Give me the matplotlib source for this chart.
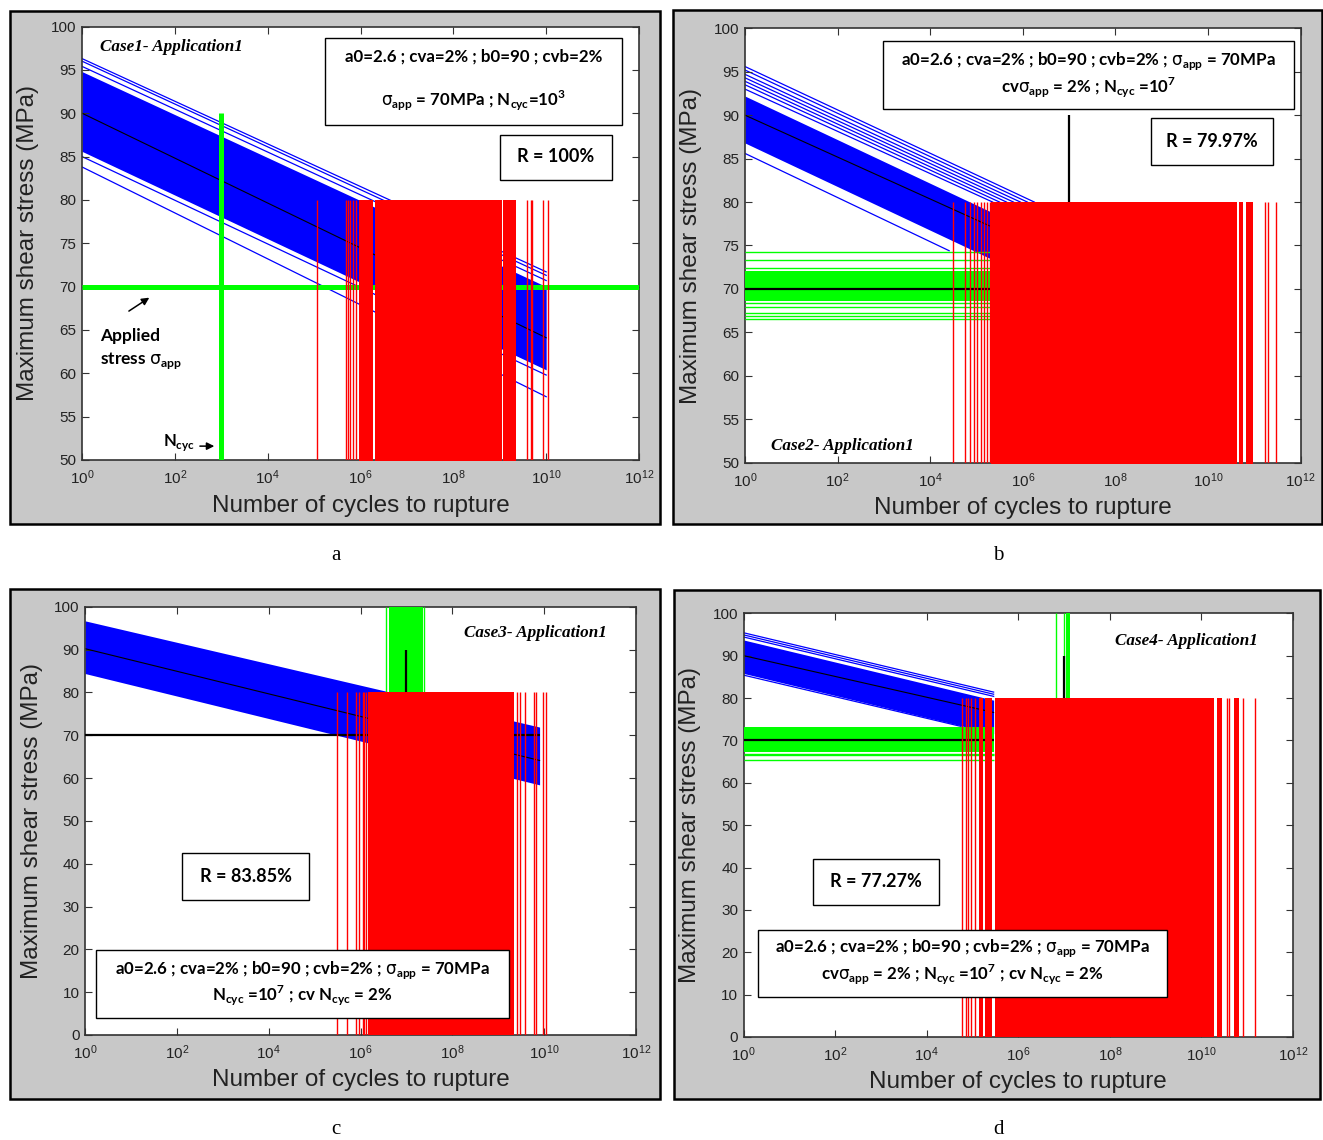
import numpy as np
import matplotlib
matplotlib.use("Agg")
import matplotlib.pyplot as plt
from matplotlib.patches import Rectangle

plt.rcParams["font.family"] = "Liberation Sans"
plt.rcParams["mathtext.fontset"] = "custom"
plt.rcParams["mathtext.rm"] = "Lato:bold"
plt.rcParams["mathtext.bf"] = "Lato:bold"
plt.rcParams["mathtext.it"] = "DejaVu Sans"

BLUE, RED, GREEN, GRAY = "#0000ff", "#ff0000", "#00ff00", "#c8c8c8"
red_top = 80          # height of the rupture markers (MPa)

# ---------------- Case 1 ----------------
band_a_logn = [0, 10]
band_a_up = [94.8, 70.0]
band_a_lo = [85.6, 60.4]
mean_a_logn = [0, 10]
mean_a = [90.0, 64.1]
# stray S-N lines : (stress at N=1, log10 N at end, stress at end)
stray_a = [(96.3, 10, 71.7), (96.0, 10, 71.3), (95.4, 10, 70.7),
           (85.0, 10, 59.8), (83.8, 10, 57.3)]
rupt_a_lines = [5.07, 5.68, 5.73, 5.78, 5.84, 5.91, 9.58, 9.67, 9.70, 9.94, 10.03]
rupt_a_runs = [(5.97, 6.27), (6.31, 9.04), (9.07, 9.35)]
sigma_app = 70
ncyc_a = 3

# ---------------- Case 2 ----------------
band_b_logn = [0, 5.3]
band_b_up = [92.2, 78.9]
band_b_lo = [86.8, 73.5]
mean_b_logn = [0, 5.35]
mean_b = [90.0, 77.1]
stray_b = [(95.6, 6.25, 80.0), (95.2, 6.1, 80.0), (94.7, 5.95, 80.0),
           (94.3, 5.8, 80.0), (93.9, 5.65, 80.0), (93.5, 5.5, 80.0),
           (93.0, 5.35, 80.0), (85.6, 4.41, 74.4)]
rupt_b_lines = [4.49, 4.76, 4.85, 4.94, 5.01, 5.09, 5.16, 5.23, 5.29,
                11.23, 11.30, 11.47]
rupt_b_runs = [(5.32, 10.62), (10.67, 10.76), (10.82, 10.97)]
green_b_levels = [74.3, 73.3, 72.4, 68.35, 67.9, 67.2, 66.9, 66.5]
green_b_run = (68.6, 72.1)
green_b_end = 5.32
ncyc_b = 7

# ---------------- Case 3 ----------------
band_c_logn = [0, 9.9]
band_c_up = [96.7, 71.9]
band_c_lo = [84.4, 58.4]
mean_c_logn = [0, 9.9]
mean_c = [90.2, 64.1]
stray_c = []
rupt_c_lines = [5.48, 5.70, 5.90, 5.97, 6.05, 6.08, 6.13,
                9.40, 9.48, 9.58, 9.77, 9.82, 9.97, 10.05]
rupt_c_runs = [(6.17, 9.35)]
green_c_lines = [6.56, 7.38]
green_c_run = (6.62, 7.36)
sigma_c_end = 9.9
ncyc_c = 7

# ---------------- Case 4 ----------------
band_d_logn = [0, 5.46]
band_d_up = [93.7, 79.5]
band_d_lo = [85.8, 71.6]
mean_d_logn = [0, 5.46]
mean_d = [90.0, 76.6]
stray_d = [(95.4, 5.46, 81.4), (94.9, 5.46, 80.9), (94.4, 5.46, 80.4),
           (85.4, 4.75, 73.3)]
rupt_d_lines = [4.76, 4.85, 4.91, 4.97, 5.06, 10.55, 10.60, 10.91, 11.18]
rupt_d_runs = [(5.13, 5.22), (5.28, 5.42), (5.48, 10.28), (10.33, 10.45), (10.72, 10.82)]
green_d_levels = [66.9, 66.5, 65.4]
green_d_run = (67.3, 73.1)
green_d_end = 5.46
green_d_lines = [6.83, 7.0]
green_d_vrun = (7.04, 7.12)
ncyc_d = 7

W, H = 1323, 1140
fig = plt.figure(figsize=(W / 100, H / 100), dpi=100)


def px_axes(x0, y0, x1, y1):
    return fig.add_axes([x0 / W, 1 - y1 / H, (x1 - x0) / W, (y1 - y0) / H])


def frame(x0, y0, x1, y1):
    fig.add_artist(Rectangle((x0 / W, 1 - y1 / H), (x1 - x0) / W, (y1 - y0) / H,
                             transform=fig.transFigure, facecolor=GRAY,
                             edgecolor="black", lw=1.8, zorder=-5))


def pw(v):
    return np.power(10.0, np.asarray(v, dtype=float))


def setup(ax, ylim, yticks):
    ax.set_xscale("log")
    ax.set_xlim(1, 1e12)
    ax.set_ylim(*ylim)
    ax.set_xticks(pw(range(0, 13, 2)))
    ax.set_yticks(yticks)
    ax.minorticks_off()
    ax.tick_params(direction="in", length=5, top=True, right=True,
                   labelsize=11, labelcolor="#222222", color="#333333")
    ax.tick_params(axis="x", pad=6)
    ax.tick_params(axis="y", pad=4)
    for s in ax.spines.values():
        s.set_linewidth(1.2)
        s.set_color("#333333")
    ax.set_xlabel("Number of cycles to rupture", fontsize=17.5, color="#222222")
    ax.set_ylabel("Maximum shear stress (MPa)", fontsize=17.5, color="#222222")
    ax.yaxis.set_label_coords(-0.077, 0.5)
    ax.xaxis.set_label_coords(0.5, -0.080)


def band(ax, logn, up, lo, mlogn, mean, stray):
    ax.fill_between(pw(logn), lo, up, color=BLUE, lw=0, zorder=1)
    for y0, n1, y1 in stray:
        ax.plot(pw([0, n1]), [y0, y1], color=BLUE, lw=0.9, zorder=1)
    ax.plot(pw(mlogn), mean, color="black", lw=0.8, zorder=2)


def rupture(ax, lines, runs):
    for a, b in runs:
        ax.fill_between(pw([a, b]), 0, red_top, color=RED, lw=0, zorder=6)
    ax.vlines(pw(lines), 0, red_top, colors=RED, lw=1.0, zorder=6)


def boxed(ax, x0, y0, x1, y1, lines, ys, size):
    ax.add_patch(Rectangle((x0, y0), x1 - x0, y1 - y0, transform=ax.transAxes,
                           facecolor="white", edgecolor="black", lw=1.0, zorder=10))
    for t, y in zip(lines, ys):
        ax.text((x0 + x1) / 2, y, t, transform=ax.transAxes, ha="center",
                va="center", fontsize=size, family="Lato", fontweight="bold",
                zorder=11)


def case_label(ax, x, y, text, ha):
    ax.text(x, y, text, transform=ax.transAxes, ha=ha, va="center",
            family="Liberation Serif", style="italic", fontweight="bold",
            fontsize=12.3, zorder=11)


params = r"a0=2.6 ; cva=2% ; b0=90 ; cvb=2%"
sig = r"$\sigma_{\mathrm{app}}$"
ncyc = r"N$_{\mathrm{cyc}}$"
BOX_FS = 12.2

# ---------- a ----------
frame(10, 11, 660, 524)
ax = px_axes(82, 26.5, 639, 460)
band(ax, band_a_logn, band_a_up, band_a_lo, mean_a_logn, mean_a, stray_a)
ax.vlines(10.0 ** ncyc_a, 0, 90, colors=GREEN, lw=3.6, zorder=4)
ax.hlines(sigma_app, 1, 1e12, colors=GREEN, lw=3.6, zorder=4)
rupture(ax, rupt_a_lines, rupt_a_runs)
setup(ax, (50, 100), range(50, 101, 5))
case_label(ax, 0.032, 0.953, "Case1- Application1", "left")
boxed(ax, 0.436, 0.773, 0.969, 0.973,
      [params, sig + " = 70MPa ; " + ncyc + "=10$^{%d}$" % ncyc_a], [0.930, 0.828], BOX_FS)
boxed(ax, 0.750, 0.646, 0.952, 0.750, ["R = 100%"], [0.700], 13)
ax.annotate("", xy=(10 ** 1.5, 68.9), xytext=(10 ** 0.96, 67.0),
            arrowprops=dict(arrowstyle="-|>", color="black", lw=1.1, mutation_scale=11))
ax.text(10 ** 0.39, 64.3, "Applied", ha="left", va="center", fontsize=12.5,
        family=["Lato", "DejaVu Sans"], fontweight="bold")
ax.text(10 ** 0.39, 61.5, "stress " + sig, ha="left", va="center", fontsize=12.5,
        family=["Lato", "DejaVu Sans"], fontweight="bold")
ax.text(10 ** 1.75, 52.0, ncyc, ha="left", va="center", fontsize=12,
        family="Lato", fontweight="bold")
ax.annotate("", xy=(10 ** 2.91, 51.6), xytext=(10 ** 2.48, 51.6),
            arrowprops=dict(arrowstyle="-|>", color="black", lw=1.1, mutation_scale=11))

# ---------- b ----------
frame(673, 10, 1322, 524)
ax = px_axes(745, 28.3, 1300.5, 462.7)
band(ax, band_b_logn, band_b_up, band_b_lo, mean_b_logn, mean_b, stray_b)
ax.fill_between(pw([0, green_b_end]), *green_b_run, color=GREEN, lw=0, zorder=3)
ax.hlines(green_b_levels, 1, 10 ** green_b_end, colors=GREEN, lw=1.0, zorder=3)
ax.hlines(sigma_app, 1, 10 ** green_b_end, colors="black", lw=1.6, zorder=4)
ax.vlines(10.0 ** ncyc_b, 0, 90, colors="black", lw=1.6, zorder=4)
rupture(ax, rupt_b_lines, rupt_b_runs)
setup(ax, (50, 100), range(50, 101, 5))
case_label(ax, 0.047, 0.038, "Case2- Application1", "left")
boxed(ax, 0.248, 0.814, 0.988, 0.971,
      [params + " ; " + sig + " = 70MPa",
       "cv" + sig + " = 2% ; " + ncyc + " =10$^{%d}$" % ncyc_b], [0.925, 0.862], BOX_FS)
boxed(ax, 0.731, 0.685, 0.950, 0.793, ["R = 79.97%"], [0.739], 13)

# ---------- c ----------
frame(10, 589, 660, 1099)
ax = px_axes(85, 606.7, 636, 1035)
band(ax, band_c_logn, band_c_up, band_c_lo, mean_c_logn, mean_c, stray_c)
ax.fill_betweenx([0, 100], *pw(green_c_run), color=GREEN, lw=0, zorder=3)
ax.vlines(pw(green_c_lines), 0, 100, colors=GREEN, lw=1.0, zorder=3)
ax.hlines(sigma_app, 1, 10 ** sigma_c_end, colors="black", lw=1.6, zorder=4)
ax.vlines(10.0 ** ncyc_c, 0, 90, colors="black", lw=1.6, zorder=4)
rupture(ax, rupt_c_lines, rupt_c_runs)
setup(ax, (0, 100), range(0, 101, 10))
case_label(ax, 0.947, 0.939, "Case3- Application1", "right")
boxed(ax, 0.176, 0.315, 0.407, 0.425, ["R = 83.85%"], [0.370], 13)
boxed(ax, 0.020, 0.040, 0.770, 0.198,
      [params + " ; " + sig + " = 70MPa",
       ncyc + " =10$^{%d}$ ; cv " % ncyc_c + ncyc + " = 2%"], [0.152, 0.091], BOX_FS)

# ---------- d ----------
frame(674, 590, 1320, 1099)
ax = px_axes(743.7, 613.3, 1293, 1037)
band(ax, band_d_logn, band_d_up, band_d_lo, mean_d_logn, mean_d, stray_d)
ax.fill_between(pw([0, green_d_end]), *green_d_run, color=GREEN, lw=0, zorder=3)
ax.hlines(green_d_levels, 1, 10 ** green_d_end, colors=GREEN, lw=1.0, zorder=3)
ax.fill_betweenx([0, 100], *pw(green_d_vrun), color=GREEN, lw=0, zorder=3)
ax.vlines(pw(green_d_lines), 0, 100, colors=GREEN, lw=1.0, zorder=3)
ax.hlines(sigma_app, 1, 10 ** green_d_end, colors="black", lw=1.6, zorder=4)
ax.vlines(10.0 ** ncyc_d, 0, 90, colors="black", lw=1.6, zorder=4)
rupture(ax, rupt_d_lines, rupt_d_runs)
setup(ax, (0, 100), range(0, 101, 10))
case_label(ax, 0.936, 0.935, "Case4- Application1", "right")
boxed(ax, 0.126, 0.312, 0.356, 0.420, ["R = 77.27%"], [0.366], 13)
boxed(ax, 0.026, 0.094, 0.771, 0.253,
      [params + " ; " + sig + " = 70MPa",
       "cv" + sig + " = 2% ; " + ncyc + " =10$^{%d}$ ; cv " % ncyc_d + ncyc + " = 2%"],
      [0.210, 0.146], BOX_FS)

for lab, x, y in [("a", 336, 556), ("b", 998, 556), ("c", 336, 1130), ("d", 998, 1130)]:
    fig.text(x / W, 1 - y / H, lab, ha="center", va="center",
             family="Liberation Serif", fontsize=15)

fig.savefig("out.png", dpi=100, facecolor="white")
